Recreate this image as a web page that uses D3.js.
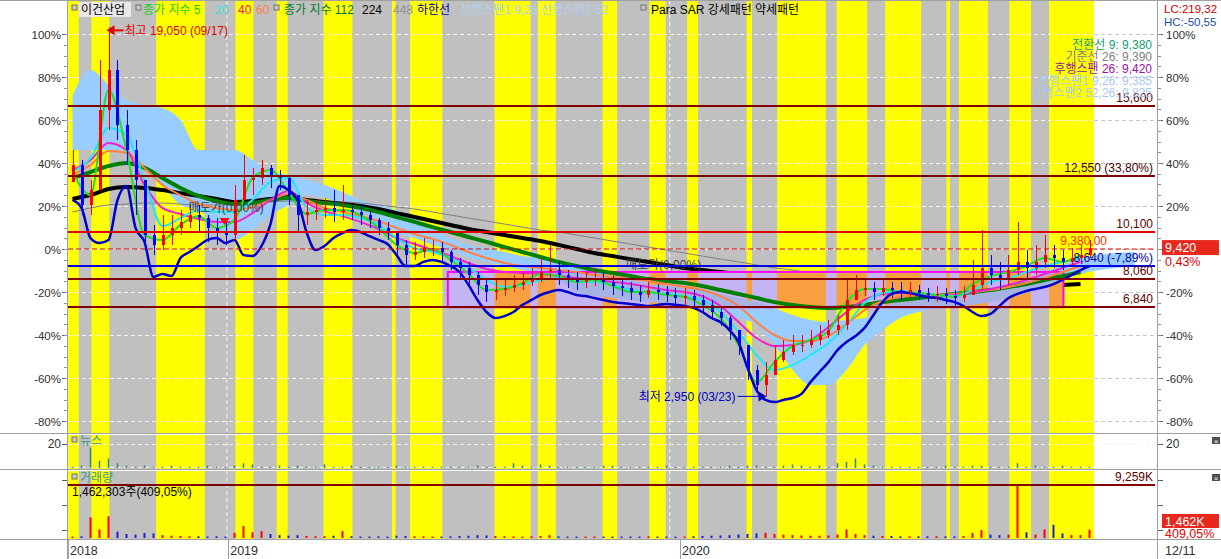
<!DOCTYPE html>
<html><head><meta charset="utf-8">
<script src="https://cdnjs.cloudflare.com/ajax/libs/d3/7.8.5/d3.min.js"></script>
<style>
html,body{margin:0;padding:0;background:#fff;overflow:hidden}
svg{display:block}
text{font-family:"Liberation Sans","Noto Sans CJK KR",sans-serif;font-size:12px}
</style></head><body>
<svg id="chart" width="1221" height="559"></svg>
<script>
// ---------------- DATA ----------------
const basePrice = 9380;               // 0% reference price
const totalDays = 570;                // trading days shown
const firstOpen = 12300;
// weekly candles (won)
const close = [13045,11300,11954,15445,17190,14790,13700,12390,9990,9555,9990,10296,10558,10860,10730,10296,10120,9990,11518,12390,12480,12914,12608,12480,11736,10860,10990,11080,11170,10990,11080,10990,10860,10645,10296,10120,9555,9118,9250,9424,9424,9250,8813,8550,8245,7810,7504,7591,7680,7810,7940,8115,8380,8464,8245,8027,7940,8027,8115,7940,7765,7680,7504,7373,7591,7504,7373,7242,7330,7155,6937,6632,6370,5846,5190,4101,3446,3882,4537,4886,5190,5190,5410,5628,5846,6064,7155,7591,7680,7504,7680,7591,7504,7591,7460,7373,7416,7330,7242,7373,7810,8550,8245,8027,8464,8813,8550,8813,9118,8987,8813,8987,9118,9420];
const high = [13699,13263,12391,17626,19050,17626,15445,14136,12391,10427,10863,10863,11082,11300,11300,10863,10733,10558,12172,13481,12914,13263,13045,12827,12609,11736,11518,11518,11605,11954,12172,11300,11300,11082,10733,10558,10122,9773,9685,9860,9773,9685,9336,8987,8813,8376,8027,8027,8115,8246,8376,8551,8987,9555,8813,8464,8376,8376,8551,8376,8202,8115,7940,7809,7940,7853,7766,7678,7678,7591,7373,7155,6893,6457,5846,5190,4319,4450,5190,5410,5628,5628,5846,6064,6282,6500,8027,8246,8115,7940,8115,7940,7940,7940,7809,7678,7766,7678,7591,7766,8900,10209,9118,8813,9118,10558,9336,9555,9991,9555,9336,9424,9555,9773];
const low = [12609,10863,10863,11954,14572,14136,13045,10863,9336,9118,9336,9555,9991,10296,10122,9685,9555,9555,9773,11518,11736,12172,12041,11954,11300,10122,10427,10645,10733,10558,10645,10645,10427,10296,9991,9773,9118,8682,8900,8987,9075,8813,8464,8027,7809,7373,7068,7155,7329,7504,7591,7766,7940,8027,7809,7678,7591,7678,7766,7591,7373,7329,7155,7068,7242,7155,7068,6937,6937,6806,6544,6282,6020,5410,4755,3664,3141,2950,4014,4450,4755,4886,5061,5192,5497,5628,5846,7155,7329,7155,7329,7242,7155,7242,7155,7068,7068,6980,6893,7068,7373,7591,7809,7591,7809,8246,8027,8246,8551,8551,8464,8638,8726,8987];
// weekly volume (thousand shares) and news count
const volumeK = [250,300,3600,1500,3800,1100,700,600,900,800,500,400,350,300,300,250,300,250,900,2100,1000,1200,700,500,400,500,350,300,300,400,1200,300,250,250,300,250,400,350,300,300,250,250,300,350,400,500,450,350,300,300,250,300,350,500,300,250,250,250,250,250,250,250,250,250,300,250,250,250,250,300,350,400,450,500,600,700,800,900,700,600,500,450,400,400,450,600,1500,700,500,400,350,350,300,300,300,300,300,300,300,350,900,1400,600,500,600,9259,1000,600,1500,2300,800,500,500,1462];
const news = [1,2,17,6,8,4,2,1,2,1,1,2,1,1,1,2,1,1,2,4,3,1,1,2,1,2,1,1,3,1,1,2,1,1,1,1,2,1,1,1,1,1,1,1,1,2,1,1,1,4,2,1,3,2,1,1,1,1,1,2,2,1,1,1,1,1,2,1,1,1,1,1,1,2,1,2,2,1,1,2,3,2,1,2,1,4,5,8,3,2,1,1,1,1,1,1,1,2,1,1,2,2,1,1,1,4,1,2,1,1,2,1,1,1];
// weekly lower line (하한선), percent
const lowerLine = [22.8,19.1,5.1,2.8,4.2,22.8,29.3,9.8,3.3,-13.0,-11.6,-12.6,-4.2,-1.4,1.4,4.2,5.1,2.8,4.2,-2.8,-3.3,1.4,11.6,29.3,27.4,22.8,7.9,-0.5,1.4,5.1,7.4,8.8,7.9,6.0,4.2,2.3,-2.8,-7.9,-7.9,-6.0,-5.1,-6.0,-7.9,-10.7,-16.7,-23.7,-29.3,-32.1,-31.2,-29.3,-26.0,-23.7,-21.4,-20.0,-19.1,-20.0,-21.4,-21.9,-22.8,-23.7,-24.7,-25.1,-25.6,-26.0,-26.5,-26.0,-25.6,-26.0,-26.5,-27.4,-29.3,-32.1,-34.0,-37.7,-43.3,-55.3,-65.6,-70.2,-71.2,-70.2,-69.3,-67.4,-61.9,-57.2,-52.6,-47.0,-43.3,-40.5,-36.7,-30.7,-24.7,-20.9,-20.0,-20.5,-21.4,-22.3,-22.8,-23.7,-24.7,-26.5,-29.3,-31.2,-30.2,-26.5,-22.8,-20.9,-19.5,-18.6,-17.7,-16.3,-14.4,-12.1,-9.8,-7.9];
// bi-weekly moving averages, percent
const ma5 = [35.8,25.1,74.0,46.0,6.5,4.2,11.2,15.3,9.8,13.5,33.0,36.7,26.5,16.3,18.1,18.1,15.8,9.8,1.9,-1.9,0,-5.1,-11.6,-19.1,-18.6,-15.8,-11.6,-12.6,-15.3,-14.4,-17.2,-20.0,-20.0,-21.4,-22.3,-26.0,-32.1,-44.7,-61.9,-52.6,-45.1,-42.3,-38.1,-24.7,-18.6,-18.6,-20.0,-20.5,-21.4,-22.3,-16.3,-12.6,-10.7,-7.9,-4.2,-6.0,-2.8];
const ma20 = [35.8,42.3,56.3,53.0,32.1,10.7,14.4,18.1,17.2,17.2,22.8,31.2,33.0,19.5,15.8,15.8,14.4,11.2,5.1,0.5,-1.4,-4.2,-8.8,-14.4,-17.7,-16.7,-14.4,-13.5,-15.3,-15.3,-16.7,-19.1,-20.5,-20.9,-21.9,-23.7,-29.3,-38.6,-49.3,-56.3,-54.0,-49.3,-43.7,-35.3,-25.1,-20.5,-19.5,-20.5,-21.4,-21.9,-19.1,-15.3,-13.5,-10.7,-7.9,-6.0,-4.2];
const ma40 = [36.7,41.4,49.3,46.0,29.8,19.1,16.3,14.0,12.6,12.6,16.7,22.8,27.0,21.4,17.7,15.3,12.6,9.3,5.1,2.3,-0.5,-3.3,-6.5,-9.3,-10.7,-11.2,-11.6,-12.6,-13.5,-14.4,-15.3,-16.3,-17.7,-19.1,-20.0,-21.9,-26.5,-34.0,-41.4,-45.1,-44.7,-42.3,-36.3,-29.3,-23.7,-20.9,-20.5,-20.9,-21.9,-21.4,-20.0,-18.6,-16.7,-14.4,-11.6,-8.8,-6.0];
const ma60 = [34.4,39.1,45.6,44.7,37.7,29.8,25.1,20.9,19.1,18.1,19.5,22.8,25.6,22.8,19.1,17.2,15.3,13.0,9.8,7.0,4.7,1.9,-1.4,-4.2,-6.5,-7.9,-8.8,-9.8,-10.7,-12.1,-13.0,-14.0,-14.9,-16.3,-17.7,-19.1,-21.9,-26.5,-34.0,-40.0,-42.8,-42.8,-40.5,-34.9,-28.4,-24.2,-22.3,-21.4,-21.4,-20.9,-20.0,-19.1,-17.7,-15.8,-13.5,-10.7,-7.9];
const ma112 = [33.0,35.8,38.6,40.0,37.7,33.0,28.4,24.7,22.3,20.9,21.4,22.8,23.7,22.3,21.4,20.5,19.1,17.2,14.9,12.6,10.2,7.9,5.6,3.3,0.9,-1.4,-3.7,-6.0,-7.9,-9.8,-11.2,-12.6,-14.0,-14.9,-15.8,-17.2,-19.1,-20.9,-22.8,-24.7,-26.0,-27.0,-27.4,-27.0,-26.0,-24.7,-23.7,-22.8,-21.9,-20.9,-20.0,-19.1,-17.7,-16.3,-14.4,-12.6,-10.7];
const ma224 = [23.3,25.1,27.9,28.8,28.4,27.4,26.0,24.7,23.3,21.9,22.3,23.3,24.2,22.8,21.9,20.9,20.0,18.6,16.7,14.9,13.0,11.2,9.3,7.9,6.5,5.1,3.7,1.9,0,-1.9,-3.3,-4.7,-6.0,-7.4,-8.8,-9.8,-10.7,-11.6,-12.6,-13.5,-14.0,-14.4,-14.9,-15.3,-15.8,-16.3,-16.3,-16.7,-16.7,-17.2,-17.2,-17.2,-17.2,-17.2,-17.2,-16.7,-16.3];
const ma448 = [17.2,19.1,20.5,20.9,21.4,21.4,20.9,20.5,20.5,20.9,21.4,21.9,22.3,22.3,22.3,21.9,21.4,20.5,19.5,18.6,17.2,15.8,14.4,13.0,11.6,10.2,8.8,7.9,6.5,5.1,3.7,2.3,0.9,-0.5,-1.9,-3.3,-4.7,-6.0,-7.4,-8.8,-9.8,-11.2,-12.1,-13.0,-14.0,-14.4,-14.9,-15.3,-15.8,-16.3,-16.3,-16.7,-16.7,-16.7,-16.7,-16.7,-16.7];
// ichimoku cloud (bi-weekly, percent; runs 26 days ahead)
const spanA = [71.6,83.3,76.3,69.3,67.0,65.6,60.0,46.0,46.0,46.0,41.4,35.8,34.4,32.1,29.8,26.5,22.8,20.5,18.1,14.4,9.8,5.1,1.9,0.5,-1.4,-3.3,-4.2,-6.0,-8.8,-10.7,-12.6,-14.4,-16.3,-17.2,-18.1,-19.1,-20.9,-22.8,-24.7,-27.4,-30.7,-33.0,-34.0,-33.0,-32.1,-27.4,-23.7,-22.8,-21.9,-21.4,-20.5,-19.1,-16.7,-14.4,-10.7,-7.4,-4.2,-2.8,-1.9,-1.4];
const spanB = [46.0,46.0,46.0,46.0,39.1,29.8,20.5,18.1,11.2,4.2,8.8,15.8,20.5,25.1,23.7,20.5,17.2,13.5,7.9,5.1,1.9,-0.5,-4.2,-6.0,-7.9,-9.8,-11.6,-14.4,-20.0,-21.9,-22.8,-23.7,-24.7,-25.6,-26.5,-27.4,-29.3,-32.1,-35.3,-44.7,-56.3,-63.3,-63.3,-56.3,-44.7,-37.7,-32.1,-29.3,-27.4,-26.5,-26.0,-24.7,-22.8,-20.5,-17.2,-14.4,-11.6,-9.8,-8.8,-7.9];
// Para SAR strong-pattern day ranges (rest = weak)
const sarStrong = [[0,6],[13,23],[49,76],[93,103],[116,122],[142,158],[180,182],[190,208],[237,257],[261,271],[297,305],[323,332],[344,350],[377,380],[394,421],[427,444],[454,474],[488,490],[495,511],[523,535],[545,570]];
// horizontal price levels
const levelPrices = [15600,12550,10100,9380,8640,8060,6840];
const levelLabels = ['15,600','12,550 (33,80%)','10,100','9,380,00','8,640 (-7,89%)','8,060','6,840'];
// box zone
const boxDays = [211,553];
const boxPrices = [6840,8380];
// sell signal
const signalDays = [87];
const signalPrices = [10560];
const sellTexts = [{day:67,price:11000},{day:310,price:8500}];
// axis
const pctTicks = [100,80,60,40,20,0,-20,-40,-60,-80];
const yearGridDays = [88,334];
const yearLabelDays = [0,89,340];
const yearLabels = ['2018','2019','2020'];
const lastDateLabel = '12/11';

// ---------------- SCALES ----------------
const svg = d3.select('#chart');
const x = d3.scaleLinear().domain([0,totalDays]).range([68,1094]);
const yM = d3.scaleLinear().domain([-80,100]).range([421,34]);
const pct = p => (p/basePrice-1)*100;
const yP = p => yM(pct(p));
const yN = d3.scaleLinear().domain([0,20]).range([468,444]);
const yV = d3.scaleLinear().domain([0,9259]).range([538,485]);
const PL = 68, PR = 1157;
const panels = [[1,433],[435,469],[471,539]];
const YEL = '#ffff00', GRY = '#c0c0c0';
const cDay = i => 5*i+2.5, bDay = k => 10*k+2.5;

const defs = svg.append('defs');
defs.append('clipPath').attr('id','cm').append('rect').attr('x',PL).attr('y',1).attr('width',PR-PL).attr('height',432);
defs.append('clipPath').attr('id','cbox').append('rect')
  .attr('x',x(boxDays[0])).attr('y',yP(boxPrices[1])).attr('width',x(boxDays[1])-x(boxDays[0])).attr('height',yP(boxPrices[0])-yP(boxPrices[1]));

function drawStripes(g,y0,y1,grayC,yelC){
  g.append('rect').attr('x',x(0)).attr('y',y0).attr('width',x(totalDays)-x(0)).attr('height',y1-y0).attr('fill',grayC);
  g.selectAll(null).data(sarStrong).join('rect')
   .attr('x',d=>x(d[0])).attr('width',d=>x(d[1])-x(d[0])).attr('y',y0).attr('height',y1-y0).attr('fill',yelC);
}
panels.forEach(p=>drawStripes(svg.append('g'),p[0],p[1],GRY,YEL));

// grid
const grid = svg.append('g');
pctTicks.forEach(t=>{
  grid.append('line').attr('x1',PL).attr('x2',x(totalDays)).attr('y1',yM(t)+.5).attr('y2',yM(t)+.5).attr('stroke','#f4f4f4').attr('stroke-dasharray','4,3');
  grid.append('line').attr('x1',x(totalDays)).attr('x2',PR).attr('y1',yM(t)+.5).attr('y2',yM(t)+.5).attr('stroke','#c8c8c8').attr('stroke-dasharray','4,3');
});
[yN(20),yN(0)-1].forEach(v=>grid.append('line').attr('x1',PL).attr('x2',PR).attr('y1',v+.5).attr('y2',v+.5).attr('stroke','#f0f0f0').attr('stroke-dasharray','4,3'));
yearGridDays.forEach(d=>grid.append('line').attr('x1',x(d)+.5).attr('x2',x(d)+.5).attr('y1',1).attr('y2',539).attr('stroke','#f4f4f4').attr('stroke-dasharray','4,3'));

const main = svg.append('g').attr('clip-path','url(#cm)');
const cloudArea = d3.area().x((d,k)=>x(bDay(k))).y0((d,k)=>yM(spanB[k])).y1(d=>yM(d)).curve(d3.curveMonotoneX);
main.append('path').datum(spanA).attr('d',cloudArea).attr('fill','#99ccff');

const line = arr => d3.line().x((d,k)=>x(bDay(k))).y(d=>yM(d)).curve(d3.curveMonotoneX)(arr);
main.append('path').attr('d',line(ma448)).attr('fill','none').attr('stroke','#808080').attr('stroke-width',1);
main.append('path').attr('d',line(ma224)).attr('fill','none').attr('stroke','#000').attr('stroke-width',4);

// box zone
const box = main.append('g').attr('clip-path','url(#cbox)');
drawStripes(box, yP(boxPrices[1]), yP(boxPrices[0]), '#c4b4f4', '#f8a040');
box.append('path').datum(spanA).attr('d',cloudArea).attr('fill','#a6b2e2');
main.append('rect').attr('x',x(boxDays[0])).attr('y',yP(boxPrices[1])).attr('width',x(boxDays[1])-x(boxDays[0])).attr('height',yP(boxPrices[0])-yP(boxPrices[1]))
  .attr('fill','none').attr('stroke','#ff00ff').attr('stroke-width',2);

main.append('path').attr('d',line(ma112)).attr('fill','none').attr('stroke','#008000').attr('stroke-width',4);
main.append('path').attr('d',line(ma60)).attr('fill','none').attr('stroke','#ff8040').attr('stroke-width',2);
main.append('path').attr('d',line(ma40)).attr('fill','none').attr('stroke','#f020d0').attr('stroke-width',2);
main.append('path').attr('d',line(ma20)).attr('fill','none').attr('stroke','#20e8f0').attr('stroke-width',2);
main.append('path').attr('d',line(ma5)).attr('fill','none').attr('stroke','#20e020').attr('stroke-width',2);
const lowLine = d3.line().x((d,i)=>x(cDay(i))).y(d=>yM(d)).curve(d3.curveMonotoneX);
main.append('path').attr('d',lowLine(lowerLine)).attr('fill','none').attr('stroke','#0000c8').attr('stroke-width',2.5);

// candles
const candles = close.map((c,i)=>({i,o:i?close[i-1]:firstOpen,c,h:high[i],l:low[i]}));
const cg = main.append('g');
candles.forEach(d=>{
  const col = d.c>=d.o ? '#ff0000' : '#0000ff';
  const cx = Math.round(x(cDay(d.i)))+.5;
  cg.append('line').attr('x1',cx).attr('x2',cx).attr('y1',yP(d.h)).attr('y2',yP(d.l)).attr('stroke',col).attr('stroke-width',1);
  const t=Math.min(yP(d.o),yP(d.c)), b=Math.max(yP(d.o),yP(d.c));
  cg.append('rect').attr('x',cx-1.5).attr('y',t).attr('width',3).attr('height',Math.max(1,b-t)).attr('fill',col);
});

signalDays.forEach((d,i)=>{
  const sx=x(d), sy=yP(signalPrices[i]);
  main.append('path').attr('d',`M${sx-5},${sy-4}L${sx+5},${sy-4}L${sx},${sy+3}Z`).attr('fill','#ff0000');
});
sellTexts.forEach(t=>main.append('text').attr('x',x(t.day)).attr('y',yP(t.price)).attr('fill','#404040').text('매도가(0,00%)'));

// levels
const levelColors = ['#800000','#800000','#e00000','#e00000','#0000e0','#800000','#800000'];
const labelColors = ['#600000','#400000','#600000','#ff3000','#0000a0','#600000','#600000'];
levelPrices.forEach((p,i)=>{
  const yy = Math.round(yP(p));
  svg.append('line').attr('x1',PL).attr('x2',PR-2).attr('y1',yy).attr('y2',yy)
    .attr('stroke',levelColors[i]).attr('stroke-width',p===basePrice?1:2)
    .attr('stroke-dasharray',p===basePrice?'5,3':null);
  svg.append('text').attr('x',p===basePrice?1107:1153).attr('y',yy-4).attr('text-anchor','end')
    .attr('fill',labelColors[i]).text(levelLabels[i]);
});

// annotations high / low
const hiI = d3.maxIndex(high), loI = d3.minIndex(low);
const hx = x(cDay(hiI)), hy = yP(high[hiI]);
svg.append('path').attr('d',`M${hx-2},${hy+3}l8,-5l0,10z`).attr('fill','#e00000');
svg.append('line').attr('x1',hx+5).attr('x2',hx+15).attr('y1',hy+3).attr('y2',hy+3).attr('stroke','#e00000').attr('stroke-width',2);
svg.append('text').attr('x',hx+16).attr('y',hy+8).attr('fill','#e00000').text('최고 19,050 (09/17)');
const lx = x(cDay(loI)), ly = yP(low[loI]);
svg.append('path').attr('d',`M${lx+1},${ly}l-8,-5l0,10z`).attr('fill','#0000c0');
svg.append('line').attr('x1',lx-28).attr('x2',lx-6).attr('y1',ly).attr('y2',ly).attr('stroke','#0000c0').attr('stroke-width',1);
svg.append('text').attr('x',lx-30).attr('y',ly+5).attr('text-anchor','end').attr('fill','#0000c0').text('최저 2,950 (03/23)');

// news
const ng = svg.append('g');
news.forEach((v,i)=>{ng.append('rect').attr('x',x(cDay(i))-.75).attr('y',yN(v)).attr('width',1.5).attr('height',yN(0)-yN(v)).attr('fill','#2e8b7a');});
// volume
const vg = svg.append('g');
volumeK.forEach((v,i)=>{const up=candles[i].c>=candles[i].o;
  vg.append('rect').attr('x',x(cDay(i))-1).attr('y',yV(v)).attr('width',2).attr('height',yV(0)-yV(v)).attr('fill',up?'#ff0000':'#2020d0');});
svg.append('line').attr('x1',PL).attr('x2',PR-2).attr('y1',yV(9259)).attr('y2',yV(9259)).attr('stroke','#800000').attr('stroke-width',2);
svg.append('text').attr('x',1153).attr('y',yV(9259)-4).attr('text-anchor','end').attr('fill','#600000').text('9,259K');

// frames
const fr = svg.append('g').attr('stroke','#a0a0a0').attr('stroke-width',1);
[0.5,433.5,469.5,539.5].forEach(v=>fr.append('line').attr('x1',0).attr('x2',1221).attr('y1',v).attr('y2',v));
[67.5,1157.5].forEach(v=>fr.append('line').attr('x1',v).attr('x2',v).attr('y1',0).attr('y2',559));

// axes
const ax = svg.append('g').attr('fill','#303030');
pctTicks.forEach(t=>{
  const yy=Math.round(yM(t))+.5;
  ax.append('text').attr('x',61).attr('y',yy+4).attr('text-anchor','end').style('font-size','11.5px').text(t+'%');
  if(t!==0) ax.append('text').attr('x',1166).attr('y',yy+4).style('font-size','11.5px').text(t+'%');
  svg.append('line').attr('x1',62).attr('x2',67).attr('y1',yy).attr('y2',yy).attr('stroke','#606060');
  svg.append('line').attr('x1',1158).attr('x2',1163).attr('y1',yy).attr('y2',yy).attr('stroke','#606060');
});
d3.range(-80,101,5).forEach(t=>{const yy=Math.round(yM(t))+.5;
  svg.append('line').attr('x1',64).attr('x2',67).attr('y1',yy).attr('y2',yy).attr('stroke','#909090');
  svg.append('line').attr('x1',1158).attr('x2',1161).attr('y1',yy).attr('y2',yy).attr('stroke','#909090');});
ax.append('text').attr('x',61).attr('y',yN(20)+4).attr('text-anchor','end').text('20');
ax.append('text').attr('x',1166).attr('y',yN(20)+4).text('20');
[yN(20),480,505,530].forEach(v=>{svg.append('line').attr('x1',62).attr('x2',67).attr('y1',v+.5).attr('y2',v+.5).attr('stroke','#606060');
  svg.append('line').attr('x1',1158).attr('x2',1163).attr('y1',v+.5).attr('y2',v+.5).attr('stroke','#606060');});
yearLabelDays.forEach((d,i)=>{
  svg.append('line').attr('x1',Math.round(x(d))+.5).attr('x2',Math.round(x(d))+.5).attr('y1',540).attr('y2',559).attr('stroke','#a0a0a0');
  ax.append('text').attr('x',x(d)+2).attr('y',555).style('font-size','12.5px').text(yearLabels[i]);
});
ax.append('text').attr('x',1165).attr('y',555).style('font-size','12.5px').text(lastDateLabel);

// right tags
const lastY = yP(close[close.length-1]);
svg.append('rect').attr('x',1162).attr('y',lastY-8).attr('width',57).attr('height',15).attr('fill','#e8281c');
svg.append('text').attr('x',1165).attr('y',lastY+4).attr('fill','#fff').style('font-size','12.5px').text('9,420');
svg.append('text').attr('x',1165).attr('y',lastY+18).attr('fill','#e00000').style('font-size','12.5px').text('0,43%');
svg.append('rect').attr('x',1162).attr('y',514).attr('width',57).attr('height',14).attr('fill','#e8281c');
svg.append('text').attr('x',1165).attr('y',526).attr('fill','#fff').style('font-size','12.5px').text('1,462K');
svg.append('text').attr('x',1165).attr('y',538).attr('fill','#e00000').style('font-size','12.5px').text('409,05%');
svg.append('text').attr('x',1164).attr('y',13).attr('fill','#cc0000').style('font-size','11.5px').text('LC:219,32');
svg.append('text').attr('x',1164).attr('y',26).attr('fill','#2050a0').style('font-size','11.5px').text('HC:-50,55');
[437,474].forEach(v=>{svg.append('rect').attr('x',1212).attr('y',v).attr('width',8).attr('height',7).attr('fill','#505050');
  svg.append('text').attr('x',1216).attr('y',v+6.5).attr('text-anchor','middle').attr('fill','#fff').style('font-size','8px').text('×');});

// ichimoku legend
const ich = [['전환선 9: 9,380','#10a070'],['기준선 26: 9,390','#808080'],['후행스팬 26: 9,420','#9a10a0'],['선행스팬1 9,26: 9,385','#a8c8f0'],['선행스팬2 52,26: 9,825','#a8c8f0']];
ich.forEach((d,i)=>svg.append('text').attr('x',1152).attr('y',49+i*12).attr('text-anchor','end').attr('fill',d[1]).text(d[0]));

// top legend
function sq(xx,yy){svg.append('rect').attr('x',xx).attr('y',yy).attr('width',5).attr('height',5).attr('fill','#c8c8c8').attr('stroke','#707070').attr('stroke-width',1);}
sq(72,5); svg.append('rect').attr('x',79).attr('y',2).attr('width',52).attr('height',15).attr('fill','#e8e8e8');
const leg = [['이건산업',81,'#000'],['종가 지수 5',143,'#22cc22'],['20',215,'#40e0e0'],['40',238,'#ff2060'],['60',256,'#ff8040'],
 ['종가 지수 112',284,'#007a33'],['224',362,'#000'],['448',393,'#909090'],['하한선',417,'#0000a0'],['선행스팬1 9,26  선행스팬2 52',460,'#b0d0f0'],
 ['Para SAR 강세패턴',651,'#000'],['약세패턴',755,'#000']];
sq(136,5); sq(274,5); sq(641,5);
leg.forEach(d=>svg.append('text').attr('x',d[1]).attr('y',14).attr('fill',d[2]).text(d[0]));
sq(72,437); svg.append('text').attr('x',80).attr('y',445).attr('fill','#3a9a8a').text('뉴스');
sq(72,474); svg.append('text').attr('x',80).attr('y',482).attr('fill','#3a9a8a').text('거래량');
svg.append('text').attr('x',72).attr('y',496).attr('fill','#000').text('1,462,303주(409,05%)');
</script></body></html>
